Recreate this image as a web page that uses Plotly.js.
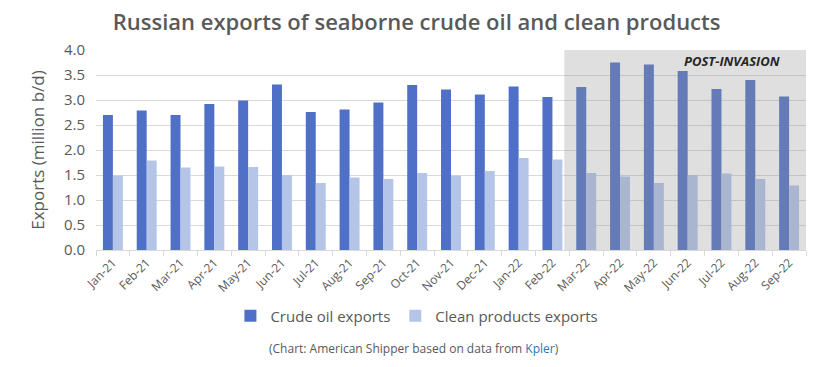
<!DOCTYPE html>
<html>
<head>
<meta charset="utf-8">
<script src="https://cdn.plot.ly/plotly-3.0.1.min.js"></script>
<style>html,body{margin:0;padding:0;background:#fff;}#chart{width:825px;height:367px;}</style>
</head>
<body>
<div id="chart"></div>
<script>
const months = ["Jan-21","Feb-21","Mar-21","Apr-21","May-21","Jun-21","Jul-21","Aug-21","Sep-21","Oct-21","Nov-21","Dec-21","Jan-22","Feb-22","Mar-22","Apr-22","May-22","Jun-22","Jul-22","Aug-22","Sep-22"];
const crudeExports = [2.70,2.79,2.70,2.92,2.99,3.31,2.76,2.81,2.95,3.30,3.21,3.11,3.27,3.06,3.26,3.75,3.71,3.58,3.22,3.40,3.07];
const cleanExports = [1.49,1.79,1.65,1.67,1.66,1.50,1.34,1.45,1.42,1.54,1.49,1.58,1.84,1.81,1.54,1.47,1.34,1.50,1.53,1.42,1.29];
const seriesNames = ["Crude oil exports","Clean products exports"];

const FONT = "Open Sans, DejaVu Sans, sans-serif";
const GRAY = "#595959";

const traces = [
  {type:"bar", name:seriesNames[0], x:months, y:crudeExports, marker:{color:"#4f70c6"}, hoverinfo:"x+y"},
  {type:"bar", name:seriesNames[1], x:months, y:cleanExports, marker:{color:"#b4c5e8"}, hoverinfo:"x+y"}
];

const layout = {
  width:825, height:367,
  margin:{l:96, r:19, t:50, b:117},
  paper_bgcolor:"#fff", plot_bgcolor:"#fff",
  font:{family:FONT, color:GRAY},
  title:{text:"Russian exports of seaborne crude oil and clean products", font:{family:FONT, size:22, color:GRAY, weight:600}, x:0.505, xanchor:"center", y:0.94, yanchor:"middle", yref:"container"},
  barmode:"group", bargap:0.41, bargroupgap:0,
  xaxis:{type:"category", tickangle:-45, tickfont:{size:12, color:GRAY}, ticks:"outside", tickson:"boundaries", ticklen:5, tickcolor:"#d9d9d9", showline:true, linecolor:"#d9d9d9", showgrid:false, fixedrange:true},
  yaxis:{range:[0,4], dtick:0.5, tickformat:".1f", tickfont:{size:15, color:GRAY}, gridcolor:"#d9d9d9", zeroline:false, showline:false, ticks:"", ticklabelstandoff:10,
    title:{text:"Exports (million b/d)", font:{size:17, color:GRAY}, standoff:14}, fixedrange:true},
  showlegend:true,
  legend:{orientation:"h", x:0.452, xanchor:"center", y:-0.33, yanchor:"middle", font:{size:15, color:GRAY}, itemwidth:30, traceorder:"normal"},
  shapes:[{type:"rect", xref:"x", yref:"paper", x0:13.35, x1:20.5, y0:0, y1:1, fillcolor:"rgba(150,150,150,0.3)", line:{width:0}, layer:"above"}],
  annotations:[
    {text:"<b><i>POST-INVASION</i></b>", xref:"paper", yref:"paper", x:0.896, y:0.945, xanchor:"center", yanchor:"middle", showarrow:false, font:{size:13, color:"#262626"}},
    {text:"(Chart: American Shipper based on data from <span style='color:#2e75b6'>Kpler</span>)", xref:"paper", yref:"paper", x:0.448, y:-0.49, xanchor:"center", yanchor:"middle", showarrow:false, font:{size:12, color:GRAY}}
  ]
};

Plotly.newPlot("chart", traces, layout, {displayModeBar:false, staticPlot:true});
</script>
</body>
</html>
